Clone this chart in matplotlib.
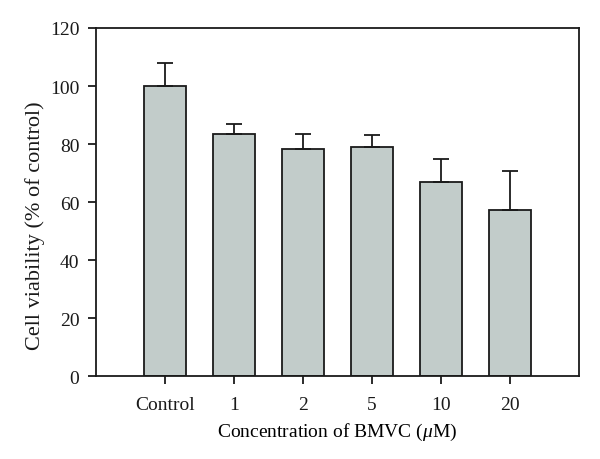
import matplotlib
matplotlib.use("Agg")
import matplotlib.pyplot as plt

plt.rcParams['font.family'] = ['Liberation Serif', 'DejaVu Serif']
plt.rcParams['mathtext.fontset'] = 'custom'
plt.rcParams['mathtext.rm'] = 'Liberation Serif'
plt.rcParams['mathtext.it'] = 'Liberation Serif:italic'

categories = ["Control", "1", "2", "5", "10", "20"]
values = [100, 83.3, 78.2, 79.0, 66.8, 57.3]
errors = [7.9, 3.6, 5.3, 4.0, 7.9, 13.3]

fig = plt.figure(figsize=(6, 4.6), dpi=100)
ax = fig.add_axes([0.16, 0.18, 0.805, 0.757])
x = list(range(len(categories)))
ax.bar(x, values, width=0.62, color='#c2ccca', edgecolor='#1a1a1a', linewidth=1.3,
       yerr=[[0]*len(errors), errors], error_kw=dict(ecolor='#1a1a1a', elinewidth=1.3, capsize=6, capthick=1.3))
ax.set_xlim(-1, 6)
ax.set_ylim(0, 120)
ax.set_yticks(range(0, 121, 20))
ax.set_xticks(x)
ax.set_xticklabels(categories)
for s in ax.spines.values():
    s.set_linewidth(1.3)
    s.set_color('#1a1a1a')
ax.tick_params(direction='out', length=6, width=1.3, labelsize=14, colors='#1a1a1a', pad=6)
ax.tick_params(axis='x', pad=8)
ax.set_xlabel(r"Concentration of BMVC ($\mu$M)", fontsize=14, labelpad=6)
fig.text(35/600, 1-226/460, "Cell viability (% of control)", rotation=90,
         ha='center', va='center', fontsize=16, color='#1a1a1a')
fig.savefig("out.png", dpi=100)
